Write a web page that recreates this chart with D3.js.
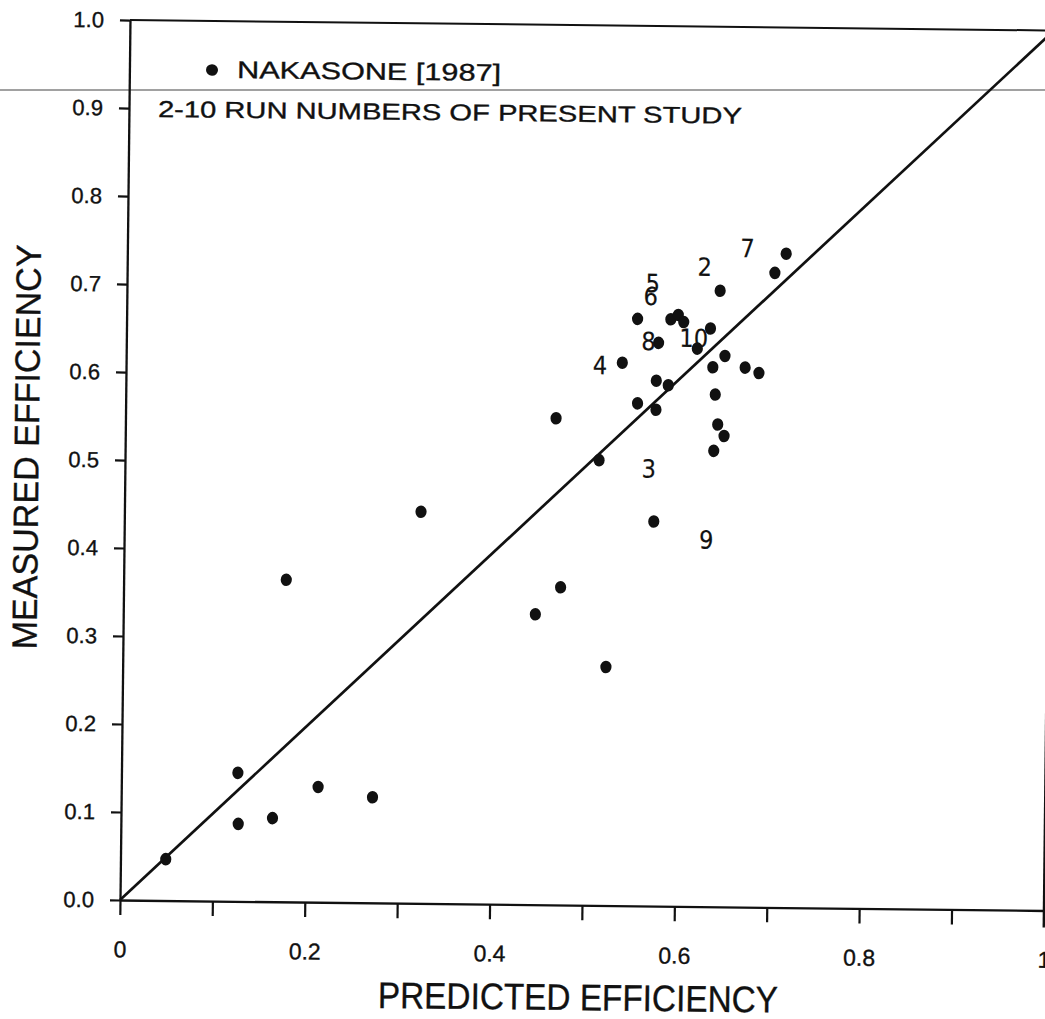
<!DOCTYPE html>
<html>
<head>
<meta charset="utf-8">
<script src="https://cdn.jsdelivr.net/npm/d3@7"></script>
<style>
body { margin: 0; background: #fff; }
svg { display: block; }
text { font-family: 'Liberation Sans', Arial, Helvetica, sans-serif; fill: #111; stroke: #111; stroke-width: 0.35px; }
.run { font-family: 'Liberation Sans Narrow', 'DejaVu Sans Condensed', 'Arial Narrow', sans-serif; stroke-width: 0.2px; }
</style>
</head>
<body>
<script>
// predicted vs measured efficiency, Nakasone [1987] points + run numbers of present study

var predicted = [0.049, 0.126, 0.127, 0.164, 0.176, 0.213, 0.272, 0.321, 0.446, 0.466,
                 0.473, 0.513, 0.523, 0.537, 0.553, 0.554, 0.573, 0.574, 0.574, 0.576,
                 0.587, 0.589, 0.597, 0.603, 0.618, 0.632, 0.635, 0.637, 0.638, 0.641,
                 0.642, 0.648, 0.648, 0.670, 0.685, 0.701, 0.713];
var measured  = [0.047, 0.146, 0.088, 0.095, 0.366, 0.131, 0.120, 0.445, 0.330, 0.553,
                 0.361, 0.506, 0.271, 0.617, 0.667, 0.571, 0.437, 0.564, 0.597, 0.640,
                 0.592, 0.667, 0.672, 0.664, 0.634, 0.657, 0.613, 0.518, 0.582, 0.548,
                 0.700, 0.626, 0.535, 0.613, 0.607, 0.721, 0.743];

var runNumbers   = ['2', '3', '4', '5', '6', '7', '8', '9', '10'];
var runPredicted = [0.625, 0.567, 0.513, 0.569, 0.567, 0.671, 0.565, 0.630, 0.614];
var runMeasured  = [0.727, 0.497, 0.614, 0.708, 0.693, 0.749, 0.642, 0.417, 0.646];

var xTicks      = [0, 0.1, 0.2, 0.3, 0.4, 0.5, 0.6, 0.7, 0.8, 0.9, 1.0];
var xTickLabels = ['0', '', '0.2', '', '0.4', '', '0.6', '', '0.8', '', '1'];
var yTicks      = [0, 0.1, 0.2, 0.3, 0.4, 0.5, 0.6, 0.7, 0.8, 0.9, 1.0];
var yTickLabels = ['0.0', '0.1', '0.2', '0.3', '0.4', '0.5', '0.6', '0.7', '0.8', '0.9', '1.0'];

var width = 1045, height = 1019;

var svg = d3.select('body')
  .append('svg')
    .attr('width', width)
    .attr('height', height);

// stray horizontal line across the scanned page
svg.append('line')
  .attr('x1', 0).attr('x2', width)
  .attr('y1', 90).attr('y2', 90)
  .attr('stroke', '#444')
  .attr('stroke-width', 1.2);

// the scanned figure is tilted a little, so the whole plot is rotated
var g = svg.append('g')
  .attr('transform', 'translate(120,900) rotate(0.65)');

var x = d3.scaleLinear().domain([0, 1]).range([0, 924]);
var y = d3.scaleLinear().domain([0, 1]).range([0, -880]);

var xAxis = d3.axisBottom(x)
  .tickValues(xTicks)
  .tickFormat((d, i) => xTickLabels[i])
  .tickSize(15)
  .tickSizeOuter(0)
  .tickPadding(26);

var yAxis = d3.axisLeft(y)
  .tickValues(yTicks)
  .tickFormat((d, i) => yTickLabels[i])
  .tickSize(10)
  .tickSizeOuter(0)
  .tickPadding(16);

var gx = g.append('g').attr('class', 'x axis').call(xAxis);
var gy = g.append('g').attr('class', 'y axis').call(yAxis);

[gx, gy].forEach(a => {
  a.select('.domain').attr('stroke', '#111').attr('stroke-width', 2.3);
  a.selectAll('.tick line').attr('stroke', '#111').attr('stroke-width', 2.2);
  a.selectAll('text').attr('fill', '#111');
});
gx.selectAll('text').attr('font-size', 23);
gy.selectAll('text').attr('font-size', 22);

// top and right frame
g.append('line')
  .attr('x1', x(0)).attr('x2', x(1))
  .attr('y1', y(1)).attr('y2', y(1))
  .attr('stroke', '#111').attr('stroke-width', 2);
g.append('line')
  .attr('x1', x(1)).attr('x2', x(1))
  .attr('y1', y(0) + 17).attr('y2', y(1))
  .attr('stroke', '#111').attr('stroke-width', 2.4);

// 1:1 line
g.append('path')
  .datum([0, 1])
  .attr('d', d3.line().x(d => x(d)).y(d => y(d)))
  .attr('stroke', '#111')
  .attr('stroke-width', 2.7)
  .attr('fill', 'none');

// data points
g.selectAll('ellipse.pt')
  .data(predicted)
  .enter()
  .append('ellipse')
    .attr('class', 'pt')
    .attr('cx', d => x(d))
    .attr('cy', (d, i) => y(measured[i]))
    .attr('rx', 5.6)
    .attr('ry', 6.3)
    .attr('fill', '#111');

// run numbers
g.selectAll('text.run')
  .data(runNumbers)
  .enter()
  .append('text')
    .attr('class', 'run')
    .attr('x', (d, i) => x(runPredicted[i]))
    .attr('y', (d, i) => y(runMeasured[i]))
    .attr('dy', '0.36em')
    .attr('text-anchor', 'middle')
    .attr('font-size', 25)
    .text(d => d);

// legend
g.append('ellipse')
  .attr('cx', 82.6).attr('cy', -831)
  .attr('rx', 6).attr('ry', 5.8)
  .attr('fill', '#111');
g.append('text')
  .attr('x', 107.7).attr('y', -823.3)
  .attr('font-size', 24)
  .attr('textLength', 264)
  .attr('lengthAdjust', 'spacingAndGlyphs')
  .text('NAKASONE [1987]');
g.append('text')
  .attr('x', 29).attr('y', -783.4)
  .attr('font-size', 23)
  .attr('textLength', 584)
  .attr('lengthAdjust', 'spacingAndGlyphs')
  .text('2-10 RUN NUMBERS OF PRESENT STUDY');

// axis titles
g.append('text')
  .attr('x', 459).attr('y', 105)
  .attr('text-anchor', 'middle')
  .attr('font-size', 37)
  .attr('textLength', 400)
  .attr('lengthAdjust', 'spacingAndGlyphs')
  .text('PREDICTED EFFICIENCY');
g.append('text')
  .attr('transform', 'translate(-99,-452) rotate(-90)')
  .attr('text-anchor', 'middle')
  .attr('dy', '0.36em')
  .attr('font-size', 35)
  .attr('textLength', 405)
  .attr('lengthAdjust', 'spacingAndGlyphs')
  .text('MEASURED EFFICIENCY');
</script>
</body>
</html>
